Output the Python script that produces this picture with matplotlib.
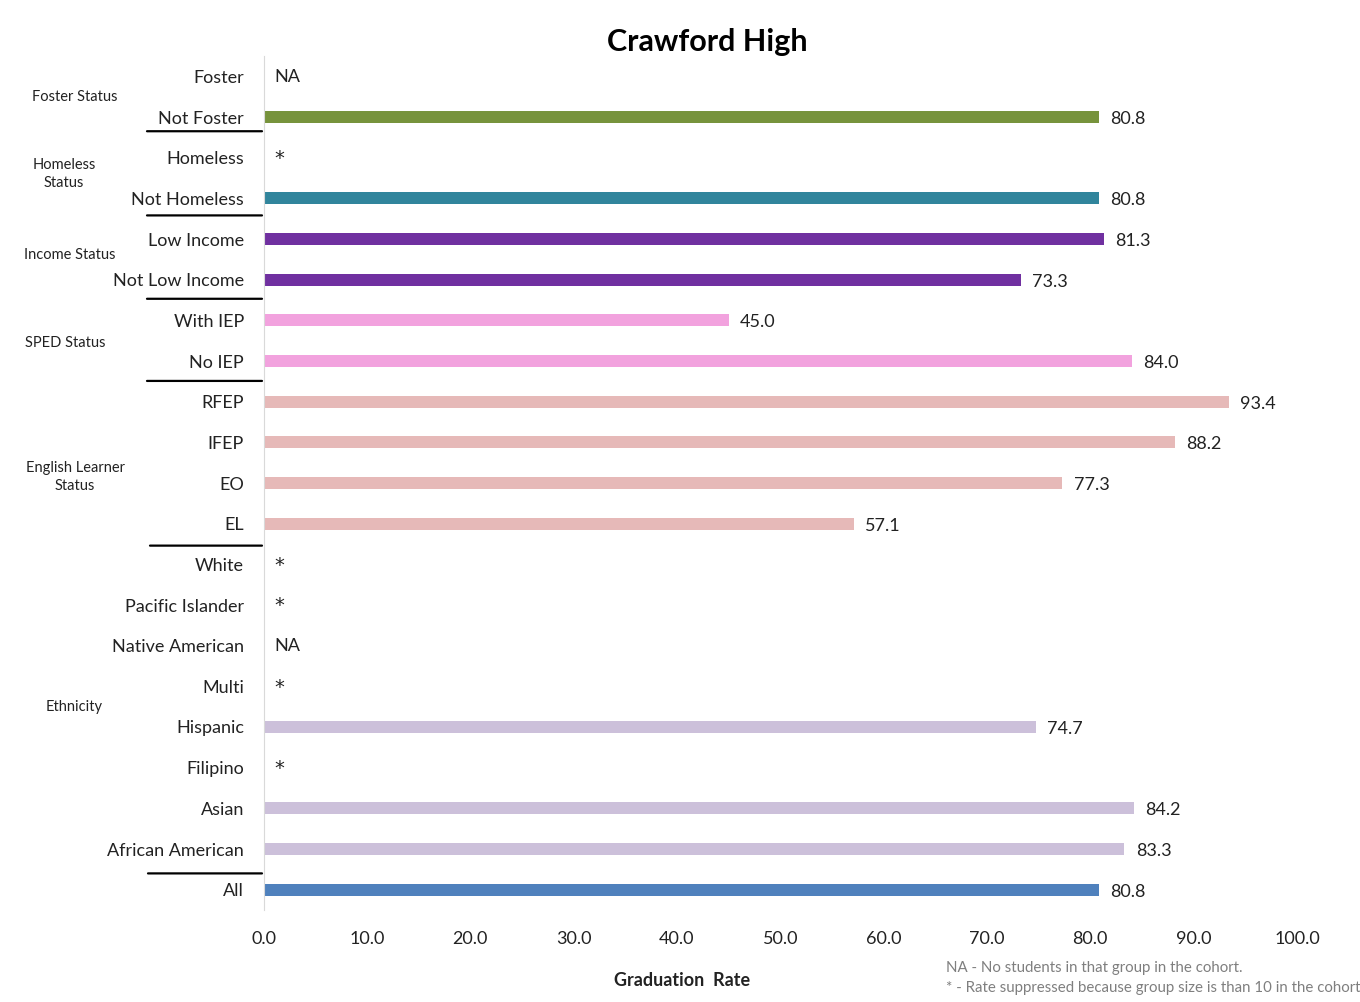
import matplotlib
matplotlib.use("Agg")
import matplotlib.pyplot as plt
import numpy as np

plt.rcParams["font.family"] = ["Lato", "DejaVu Sans"]

categories = [
    "Foster", "Not Foster", "Homeless", "Not Homeless", "Low Income",
    "Not Low Income", "With IEP", "No IEP", "RFEP", "IFEP", "EO", "EL",
    "White", "Pacific Islander", "Native American", "Multi", "Hispanic",
    "Filipino", "Asian", "African American", "All",
]
rates = [
    np.nan, 80.8, np.nan, 80.8, 81.3, 73.3, 45.0, 84.0, 93.4, 88.2, 77.3, 57.1,
    np.nan, np.nan, np.nan, np.nan, 74.7, np.nan, 84.2, 83.3, 80.8,
]
# text shown when no rate is available
missing_marks = {
    "Foster": "NA", "Homeless": "*", "White": "*", "Pacific Islander": "*",
    "Native American": "NA", "Multi": "*", "Filipino": "*",
}
bar_colors = [
    "#77933C", "#77933C", "#31859C", "#31859C", "#7030A0", "#7030A0",
    "#F2A2DE", "#F2A2DE", "#E6B9B8", "#E6B9B8", "#E6B9B8", "#E6B9B8",
    "#CCC0DA", "#CCC0DA", "#CCC0DA", "#CCC0DA", "#CCC0DA", "#CCC0DA",
    "#CCC0DA", "#CCC0DA", "#4F81BD",
]
group_names = ["Foster Status", "Homeless\nStatus", "Income Status",
               "SPED Status", "English Learner\nStatus", "Ethnicity"]
group_rows = [0.5, 2.4, 4.4, 6.55, 9.85, 15.5]
group_x = [75, 64, 70, 65, 75, 74]
separator_rows = [1.35, 3.42, 5.47, 7.49, 11.54, 19.6]
separator_x0 = [147, 147, 147, 147, 150, 148]
xticks = np.arange(0, 101, 10)

fig = plt.figure(figsize=(13.6, 10.02), dpi=100)
ax = fig.add_axes([263.5 / 1360, 1 - 910 / 1002, (1297 - 263.5) / 1360, (910 - 56) / 1002])

y = np.arange(len(categories))
vals = np.nan_to_num(np.array(rates, dtype=float))
ax.barh(y, vals, height=0.3, color=bar_colors)

for i, (cat, v) in enumerate(zip(categories, rates)):
    if np.isnan(v):
        mark = missing_marks[cat]
        if mark == "*":
            ax.text(1.1, i + 0.02, mark, va="center", ha="left", fontsize=14,
                    family="DejaVu Sans", color="#222222")
        else:
            ax.text(1.1, i + 0.02, mark, va="center", ha="left", fontsize=13, color="#222222")
    else:
        ax.text(v + 1.1, i + 0.05, f"{v:.1f}", va="center", ha="left", fontsize=13, color="#222222")

ax.set_xlim(0, 100)
ax.set_ylim(len(categories) - 0.5, -0.5)
ax.set_xticks(xticks)
ax.set_xticklabels([f"{t:.1f}" for t in xticks], fontsize=13, color="#222222")
ax.set_yticks(y)
ax.set_yticklabels(categories, fontsize=13, color="#222222")
ax.tick_params(axis="both", length=0)
ax.tick_params(axis="x", pad=15)
ax.tick_params(axis="y", pad=14)
for side in ("top", "right", "bottom"):
    ax.spines[side].set_visible(False)
ax.spines["left"].set_color("#d9d9d9")

for name, row, gx in zip(group_names, group_rows, group_x):
    ax.annotate(name, xy=(gx / 1360, row), xycoords=("figure fraction", "data"),
                ha="center", va="center", fontsize=10.5, color="#222222",
                annotation_clip=False, linespacing=1.3)
for row, x0 in zip(separator_rows, separator_x0):
    ax.annotate("", xy=(262 / 1360, row), xytext=(x0 / 1360, row),
                xycoords=("figure fraction", "data"), textcoords=("figure fraction", "data"),
                arrowprops=dict(arrowstyle="-", color="black", lw=1.6,
                                shrinkA=0, shrinkB=0),
                annotation_clip=False)

fig.text(707 / 1360, 1 - 42 / 1002, "Crawford High", ha="center", va="center",
         fontsize=22, fontweight="bold", color="black")
fig.text(682 / 1360, 1 - 980 / 1002, "Graduation  Rate", ha="center", va="center",
         fontsize=13, fontweight="bold", color="#222222")
fig.text(946 / 1360, 1 - 968 / 1002, "NA - No students in that group in the cohort.",
         ha="left", va="center", fontsize=10.8, color="#7f7f7f")
fig.text(946 / 1360, 1 - 988 / 1002,
         "* - Rate suppressed because group size is than 10 in the cohort",
         ha="left", va="center", fontsize=10.8, color="#7f7f7f")

fig.savefig("out.png", dpi=100)
